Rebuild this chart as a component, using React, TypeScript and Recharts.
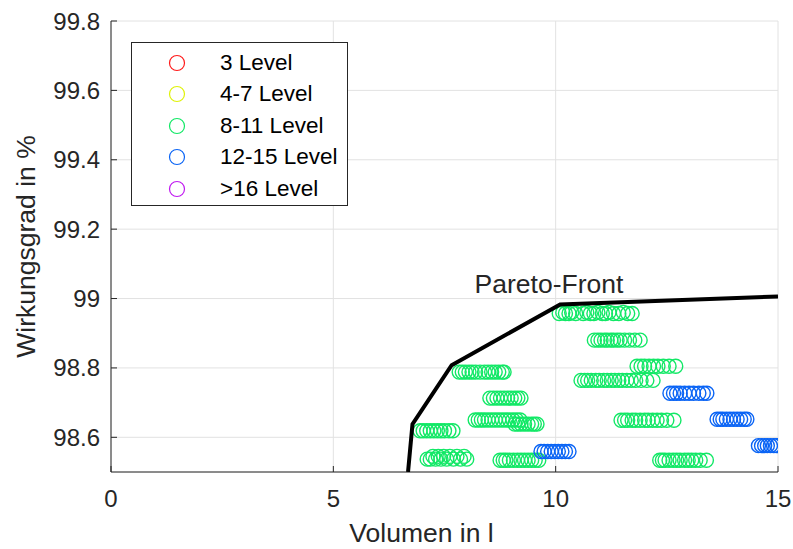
import React from 'react';
import {
  ScatterChart,
  Scatter,
  XAxis,
  YAxis,
  CartesianGrid,
  Legend,
  ReferenceDot,
} from 'recharts';

// Efficiency vs. volume for the converter designs, grouped by level count
const level8to11: [number, number][] = [
  // row at 98.96
  [10.08, 98.957], [10.16, 98.96], [10.22, 98.957], [10.30, 98.957], [10.36, 98.96], [10.45, 98.957],
  [10.62, 98.957], [10.70, 98.96], [10.78, 98.957], [10.86, 98.957], [10.95, 98.96], [11.05, 98.957],
  [11.12, 98.957], [11.20, 98.96], [11.30, 98.957], [11.42, 98.957], [11.52, 98.96], [11.62, 98.957], [11.72, 98.957],
  // row at 98.88
  [10.87, 98.88], [10.95, 98.88], [11.02, 98.88], [11.10, 98.88], [11.16, 98.88], [11.24, 98.88], [11.30, 98.88],
  [11.38, 98.88], [11.45, 98.88], [11.55, 98.88], [11.66, 98.88], [11.78, 98.88], [11.90, 98.88],
  // row at 98.80
  [11.83, 98.805], [11.92, 98.805], [12.0, 98.805], [12.1, 98.805], [12.2, 98.805], [12.3, 98.805],
  [12.42, 98.805], [12.55, 98.805], [12.70, 98.805],
  // row at 98.76
  [10.57, 98.764], [10.65, 98.764], [10.72, 98.764], [10.80, 98.764], [10.90, 98.764], [10.98, 98.764],
  [11.08, 98.764], [11.16, 98.764], [11.25, 98.764], [11.33, 98.764], [11.42, 98.764], [11.50, 98.764],
  [11.60, 98.764], [11.70, 98.764], [11.80, 98.764], [11.92, 98.764], [12.05, 98.764], [12.19, 98.764],
  // row at 98.65 (right)
  [11.47, 98.649], [11.55, 98.649], [11.62, 98.649], [11.72, 98.649], [11.80, 98.649], [11.90, 98.649],
  [12.0, 98.649], [12.08, 98.649], [12.18, 98.649], [12.28, 98.649], [12.38, 98.649], [12.50, 98.649], [12.66, 98.649],
  // row at 98.53 (right)
  [12.34, 98.534], [12.40, 98.534], [12.46, 98.534], [12.55, 98.534], [12.64, 98.534], [12.72, 98.534],
  [12.80, 98.534], [12.90, 98.534], [12.98, 98.534], [13.06, 98.534], [13.15, 98.534], [13.25, 98.534], [13.39, 98.534],
  // row at 98.53 (middle)
  [8.75, 98.534], [8.82, 98.534], [8.88, 98.534], [8.96, 98.534], [9.05, 98.534], [9.14, 98.534],
  [9.22, 98.534], [9.30, 98.534], [9.38, 98.534], [9.46, 98.534], [9.54, 98.534], [9.62, 98.534],
  // row at 98.54 (left)
  [7.11, 98.537], [7.18, 98.537], [7.24, 98.545], [7.30, 98.537], [7.36, 98.545], [7.42, 98.537],
  [7.48, 98.545], [7.55, 98.537], [7.62, 98.545], [7.70, 98.537], [7.78, 98.545], [7.86, 98.537],
  [7.94, 98.545], [8.0, 98.537],
  // row at 98.62
  [6.95, 98.619], [7.02, 98.619], [7.10, 98.619], [7.18, 98.619], [7.26, 98.619], [7.34, 98.619],
  [7.42, 98.619], [7.50, 98.619], [7.60, 98.619], [7.69, 98.619],
  // row at 98.65 (left)
  [8.19, 98.65], [8.26, 98.65], [8.33, 98.65], [8.40, 98.65], [8.48, 98.65], [8.56, 98.65], [8.64, 98.65],
  [8.72, 98.65], [8.80, 98.65], [8.88, 98.65], [8.96, 98.65], [9.04, 98.65], [9.12, 98.65], [9.20, 98.65],
  // row at 98.64
  [9.08, 98.638], [9.15, 98.638], [9.22, 98.638], [9.30, 98.638], [9.38, 98.638], [9.46, 98.638],
  [9.52, 98.638], [9.58, 98.638],
  // row at 98.71
  [8.52, 98.713], [8.60, 98.713], [8.68, 98.713], [8.76, 98.713], [8.84, 98.713], [8.92, 98.713],
  [9.0, 98.713], [9.08, 98.713], [9.15, 98.713], [9.22, 98.713],
  // row at 98.79
  [7.83, 98.788], [7.90, 98.788], [7.97, 98.788], [8.05, 98.788], [8.12, 98.788], [8.20, 98.788],
  [8.30, 98.788], [8.40, 98.788], [8.48, 98.788], [8.56, 98.788], [8.64, 98.788], [8.72, 98.788],
  [8.80, 98.788], [8.84, 98.788],
];

const level12to15: [number, number][] = [
  // row at 98.73
  [12.57, 98.727], [12.65, 98.727], [12.72, 98.727], [12.80, 98.727], [12.90, 98.727],
  [13.0, 98.727], [13.10, 98.727], [13.22, 98.727], [13.32, 98.727], [13.40, 98.727],
  // row at 98.65
  [13.63, 98.652], [13.70, 98.652], [13.76, 98.652], [13.84, 98.652], [13.92, 98.652],
  [14.0, 98.652], [14.08, 98.652], [14.16, 98.652], [14.24, 98.652], [14.30, 98.652],
  // row at 98.58
  [14.56, 98.576], [14.63, 98.576], [14.70, 98.576], [14.76, 98.576], [14.83, 98.576], [14.90, 98.576], [14.97, 98.576],
  // row at 98.56
  [9.67, 98.559], [9.74, 98.559], [9.82, 98.559], [9.90, 98.559], [9.98, 98.559],
  [10.06, 98.559], [10.14, 98.559], [10.22, 98.559], [10.30, 98.559],
];

const paretoFront: [number, number][] = [
  [6.68, 98.5],
  [6.78, 98.638],
  [7.66, 98.808],
  [10.1, 98.983],
  [15, 99.006],
];

const legendNames = ['3 Level', '4-7 Level', '8-11 Level', '12-15 Level', '>16 Level'];
const legendColors = ['#ff1a1a', '#dff20a', '#12e866', '#0a64f5', '#c01af0'];

const xTicks = [0, 5, 10, 15];
const yTicks = [98.6, 98.8, 99, 99.2, 99.4, 99.6, 99.8];

const FONT = '"Liberation Sans", Arial, Helvetica, sans-serif';
const AXIS = '#262626';

const toPoints = (rows: [number, number][]) => rows.map(([x, y]) => ({ x, y }));

const ringShape = (color: string) => (props: any) => (
  <circle cx={props.cx} cy={props.cy} r={7} fill="none" stroke={color} strokeWidth={1.4} />
);

const LegendBox = () => (
  <div
    style={{
      width: 217,
      height: 164,
      boxSizing: 'border-box',
      border: `1px solid ${AXIS}`,
      background: '#fff',
      paddingTop: 4,
      fontFamily: FONT,
      fontSize: 22.5,
      color: '#000',
    }}
  >
    {legendNames.map((name, i) => (
      <div key={name} style={{ height: 31.5, display: 'flex', alignItems: 'center' }}>
        <svg width={88} height={20} style={{ display: 'block' }}>
          <circle cx={45} cy={10} r={7.5} fill="none" stroke={legendColors[i]} strokeWidth={1.2} />
        </svg>
        <span>{name}</span>
      </div>
    ))}
  </div>
);

export default function App() {
  const tickStyle = { fill: AXIS, fontSize: 24, fontFamily: FONT };
  return (
    <div style={{ position: 'absolute', left: 0, top: 0, background: '#fff' }}>
      <ScatterChart width={793} height={549} margin={{ top: 21, right: 15, bottom: 0, left: 0 }}>
        <CartesianGrid stroke="#e2e2e2" strokeWidth={1} />
        <XAxis
          type="number"
          dataKey="x"
          domain={[0, 15]}
          ticks={xTicks}
          allowDataOverflow
          height={77}
          stroke={AXIS}
          tickSize={-6}
          tickMargin={24}
          tick={tickStyle}
          label={{
            value: 'Volumen in l',
            position: 'insideBottom',
            offset: 7,
            dx: -23,
            fill: AXIS,
            fontSize: 26.5,
            fontFamily: FONT,
          }}
        />
        <XAxis
          xAxisId="top"
          orientation="top"
          type="number"
          domain={[0, 15]}
          ticks={xTicks}
          height={0}
          stroke={AXIS}
          tickSize={-6}
          tick={false}
        />
        <YAxis
          type="number"
          dataKey="y"
          domain={[98.5, 99.8]}
          ticks={yTicks}
          allowDataOverflow
          width={111}
          stroke={AXIS}
          tickSize={-6}
          tickMargin={17}
          tick={tickStyle}
          tickFormatter={(v: number) => `${Number(v.toFixed(1))}`}
          label={{
            value: 'Wirkungsgrad in %',
            angle: -90,
            position: 'insideLeft',
            offset: 26,
            fill: AXIS,
            fontSize: 26.5,
            fontFamily: FONT,
            style: { textAnchor: 'middle' },
          }}
        />
        <YAxis
          yAxisId="right"
          orientation="right"
          type="number"
          domain={[98.5, 99.8]}
          ticks={yTicks}
          width={0}
          stroke={AXIS}
          tickSize={-6}
          tick={false}
        />
        <Legend
          layout="vertical"
          align="center"
          verticalAlign="middle"
          content={() => <LegendBox />}
          wrapperStyle={{ left: 131, top: 42, width: 217, height: 164 }}
        />
        <Scatter
          name="8-11 Level"
          data={toPoints(level8to11)}
          shape={ringShape(legendColors[2])}
          isAnimationActive={false}
        />
        <Scatter
          name="12-15 Level"
          data={toPoints(level12to15)}
          shape={ringShape(legendColors[3])}
          isAnimationActive={false}
        />
        <Scatter
          name="Pareto-Front"
          data={toPoints(paretoFront)}
          line={{ stroke: '#000', strokeWidth: 4 }}
          shape={() => <g />}
          legendType="none"
          isAnimationActive={false}
        />
        <ReferenceDot
          x={9.85}
          y={99.044}
          r={0}
          stroke="none"
          label={{ value: 'Pareto-Front', fill: AXIS, fontSize: 26.5, fontFamily: FONT, position: 'center' }}
        />
      </ScatterChart>
    </div>
  );
}
